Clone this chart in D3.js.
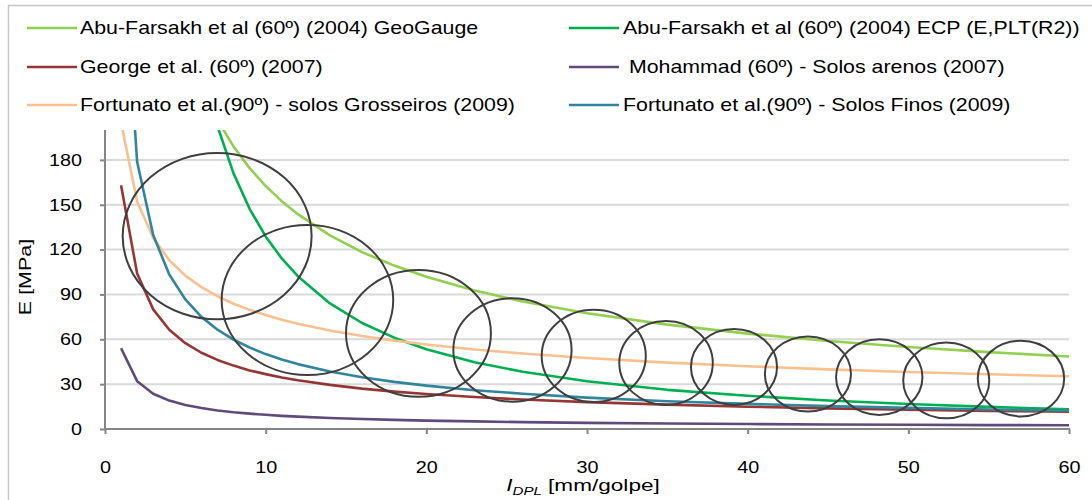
<!DOCTYPE html>
<html><head><meta charset="utf-8">
<script src="https://cdn.jsdelivr.net/npm/d3@7"></script>
<style>
body{margin:0;background:#fff}
svg{display:block}
text{font-family:"Liberation Sans",Arial,sans-serif;fill:#000}
</style>
</head><body><svg id="c" width="1092" height="500"></svg>
<script>
// ---- data ----
const xValues = [1,2,3,4,5,6,7,8,9,10,11,12,14,16,18,20,23,26,30,35,40,45,50,55,60];
const geoGauge   = [769,481.6,366.4,301.7,259.5,229.4,206.8,188.9,174.5,162.5,152.4,143.7,129.5,118.3,109.3,101.8,92.6,85.3,77.4,69.8,63.8,58.9,54.8,51.4,48.5];
const ecpPlt     = [2399,994.6,594.4,412.5,310.7,246.5,202.6,171.0,147.3,128.8,114.1,102.2,84.0,70.9,61.1,53.4,44.7,38.3,31.9,26.2,22.2,19.1,16.7,14.8,13.2];
const george     = [163,104.0,80.0,66.4,57.4,51.0,46.2,42.4,39.2,36.7,34.5,32.6,29.5,27.0,25.0,23.4,21.4,19.7,18.0,16.3,14.9,13.8,12.9,12.1,11.5];
const mohammad   = [54,32.0,23.6,19.0,16.0,14.0,12.4,11.2,10.3,9.5,8.8,8.3,7.4,6.7,6.1,5.6,5.1,4.6,4.1,3.7,3.3,3.0,2.8,2.6,2.5];
const grosseiros = [205,152.2,127.8,112.9,102.6,94.9,88.8,83.8,79.7,76.2,73.1,70.4,65.9,62.2,59.1,56.5,53.2,50.5,47.5,44.4,42.0,39.9,38.1,36.6,35.3];
const finos      = [340,178.7,129.7,103.3,86.7,75.0,66.4,59.8,54.5,50.1,46.5,43.4,38.4,34.6,31.5,29.0,25.9,23.6,21.0,18.6,16.8,15.3,14.1,13.0,12.2];

const seriesNames = [
  "Abu-Farsakh et al (60º) (2004) GeoGauge",
  "Abu-Farsakh et al (60º) (2004) ECP (E,PLT(R2))",
  "George et al. (60º) (2007)",
  " Mohammad (60º) - Solos arenos (2007)",
  "Fortunato et al.(90º) - solos Grosseiros (2009)",
  "Fortunato et al.(90º) - Solos Finos (2009)"
];
const seriesValues = [geoGauge, ecpPlt, george, mohammad, grosseiros, finos];
const seriesColors = ["#92d050","#00b050","#953735","#604a7b","#fac090","#31859c"];

const xTicks = [0,10,20,30,40,50,60];
const yTicks = [0,30,60,90,120,150,180];

// ellipse annotations (data units)
const ellipseCx = [6.98,12.6,19.51,25.36,30.42,34.92,39.15,43.75,48.19,52.36,57.01];
const ellipseCy = [129.0,86.3,64.0,52.9,48.9,44.2,41.5,36.8,34.7,32.5,33.7];
const ellipseRx = [5.88,5.34,4.51,3.68,3.24,2.91,2.68,2.68,2.69,2.68,2.69];
const ellipseRy = [55.6,50.2,42.4,34.6,30.8,28.1,25.4,25.1,25.3,25.3,25.3];

// ---- drawing ----
const svg = d3.select('#c');
const x = d3.scaleLinear().domain([0,60]).range([105,1069]);
const y = d3.scaleLinear().domain([0,200]).range([429,130]);
const SX = 1.2;
function stretch(sel, sx){
  sel.each(function(){
    const t = d3.select(this);
    const ax = +t.attr('x') || 0;
    t.attr('transform', `translate(${ax},0) scale(${sx},1) translate(${-ax},0)`);
  });
}

svg.append('rect').attr('width',1092).attr('height',500).attr('fill','#fff');
svg.append('rect').attr('x',8.5).attr('y',5.5).attr('width',1100).attr('height',520)
   .attr('fill','none').attr('stroke','#c6c6c6').attr('stroke-width',1.5);

// gridlines
svg.append('g').selectAll('line').data(yTicks.filter(d=>d>0)).join('line')
  .attr('x1',x(0)).attr('x2',x(60)).attr('y1',d=>y(d)).attr('y2',d=>y(d))
  .attr('stroke','#d9d9d9').attr('stroke-width',2);

// clip
svg.append('clipPath').attr('id','plot').append('rect')
  .attr('x',x(0)).attr('y',y(200)).attr('width',x(60)-x(0)).attr('height',y(0)-y(200));

// series
const line = d3.line().x((d,i)=>x(xValues[i])).y(d=>y(d));
const gS = svg.append('g').attr('clip-path','url(#plot)');
seriesValues.forEach((vals,k)=>{
  gS.append('path').attr('d',line(vals)).attr('fill','none')
    .attr('stroke',seriesColors[k]).attr('stroke-width',2.6).attr('stroke-linejoin','round');
});

// axes
const yAxis = svg.append('g').attr('transform',`translate(${x(0)},0)`)
  .call(d3.axisLeft(y).tickValues(yTicks).tickSize(5).tickSizeOuter(0).tickPadding(18));
yAxis.select('.domain').remove();
yAxis.selectAll('line').attr('stroke','#868686').attr('stroke-width',2);
yAxis.selectAll('text').attr('font-size','16.5px').attr('font-family','Liberation Sans, Arial, sans-serif').attr('fill','#000');
stretch(yAxis.selectAll('text'), SX);
svg.append('line').attr('x1',x(0)).attr('x2',x(0)).attr('y1',y(200)).attr('y2',y(0)+1)
  .attr('stroke','#868686').attr('stroke-width',2);

const xAxis = svg.append('g').attr('transform',`translate(0,${y(0)})`)
  .call(d3.axisBottom(x).tickValues(xTicks).tickSize(5).tickSizeOuter(0).tickPadding(27));
xAxis.select('.domain').remove();
xAxis.selectAll('line').attr('stroke','#868686').attr('stroke-width',2);
xAxis.selectAll('text').attr('font-size','16.5px').attr('font-family','Liberation Sans, Arial, sans-serif').attr('fill','#000');
stretch(xAxis.selectAll('text'), SX);
svg.append('line').attr('x1',x(0)-1).attr('x2',x(60)+1).attr('y1',y(0)).attr('y2',y(0))
  .attr('stroke','#868686').attr('stroke-width',2);

// ellipses
svg.append('g').selectAll('ellipse').data(ellipseCx).join('ellipse')
  .attr('cx',(d)=>x(d)).attr('cy',(d,i)=>y(ellipseCy[i]))
  .attr('rx',(d,i)=>x(ellipseRx[i])-x(0)).attr('ry',(d,i)=>y(0)-y(ellipseRy[i]))
  .attr('fill','none').attr('stroke','#3f3f3f').attr('stroke-width',2);

// axis titles
svg.append('text').attr('transform','translate(31,277) rotate(-90) scale(1.3,1)')
  .attr('text-anchor','middle').attr('font-size','16.5px').text('E [MPa]');
const xt = svg.append('text').attr('x',0).attr('y',0)
  .attr('transform','translate(583,491) scale(1.37,1)').attr('text-anchor','middle').attr('font-size','16.5px');
xt.append('tspan').attr('font-style','italic').text('I');
xt.append('tspan').attr('font-style','italic').attr('font-size','11px').attr('dy',4).text('DPL');
xt.append('tspan').attr('dy',-4).text(' [mm/golpe]');

// legend
const legRows = [28,67,105];
const legCols = [{x1:27,x2:77,tx:80},{x1:569,x2:619,tx:623}];
const legOrder = [0,2,4,1,3,5];
legOrder.forEach((s,j)=>{
  const col = legCols[Math.floor(j/3)], ry = legRows[j%3];
  svg.append('line').attr('x1',col.x1).attr('x2',col.x2).attr('y1',ry).attr('y2',ry)
    .attr('stroke',seriesColors[s]).attr('stroke-width',2.6);
  const t = svg.append('text').attr('x',col.tx).attr('y',ry).attr('dy','0.35em')
    .attr('font-size','17.5px').style('white-space','pre').text(seriesNames[s]);
  stretch(t, 1.22);
});
</script>
</body></html>
